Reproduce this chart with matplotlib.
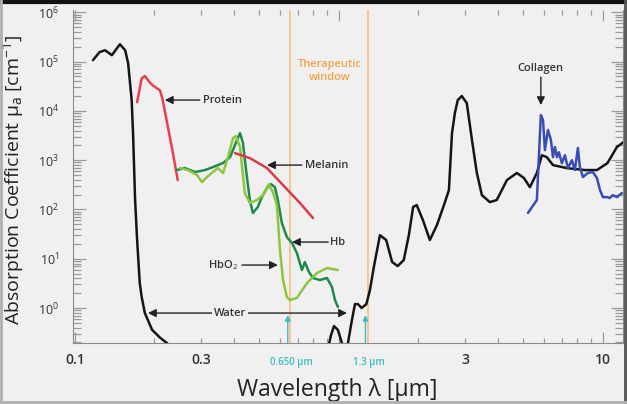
import numpy as np
import matplotlib.pyplot as plt
from matplotlib.ticker import LogLocator, FuncFormatter
from matplotlib.lines import Line2D

plt.rcParams['font.family'] = ['Open Sans', 'DejaVu Sans']
plt.rcParams['mathtext.fontset'] = 'custom'
plt.rcParams['mathtext.rm'] = 'Open Sans'
plt.rcParams['mathtext.it'] = 'Open Sans:italic'
plt.rcParams['mathtext.bf'] = 'Open Sans:bold'

# --- data (wavelength in um, absorption in 1/cm) ---
water_wl = [0.117, 0.124, 0.130, 0.138, 0.148, 0.155, 0.159, 0.164, 0.166, 0.169,
            0.172, 0.176, 0.179, 0.184, 0.196, 0.210, 0.223, 0.240,
            0.900, 0.933, 0.958, 0.991, 1.026, 1.054, 1.081, 1.12, 1.15, 1.18,
            1.22, 1.27, 1.31, 1.36, 1.43, 1.51, 1.59, 1.67, 1.76, 1.84, 1.91,
            1.97, 2.08, 2.21, 2.35, 2.50, 2.61, 2.68, 2.75, 2.82, 2.92, 3.05,
            3.19, 3.33, 3.48, 3.73, 3.96, 4.33, 4.72, 5.02, 5.29, 5.62, 5.87,
            6.13, 6.47, 7.31, 8.55, 9.49, 10.4, 11.3, 12.3]
water_mu = [1.07e5, 1.56e5, 1.7e5, 1.35e5, 2.25e5, 1.7e5, 9.3e4, 1.66e4, 3.5e3, 155,
            24, 3.2, 1.67, 0.79, 0.36, 0.25, 0.195, 0.12,
            0.12, 0.28, 0.43, 0.36, 0.195, 0.14, 0.19, 0.57, 1.2, 1.2,
            1.0, 1.2, 2.3, 7.4, 30, 24, 8.6, 7.1, 9.4, 30, 112,
            123, 61, 24, 48, 123, 247, 3.5e3, 9.1e3, 1.66e4, 2.0e4, 1.44e4,
            2.6e3, 550, 195, 141, 155, 395, 550, 435, 283, 550, 1260,
            1150, 795, 690, 630, 630, 870, 1850, 2.6e3]

protein_wl = [0.172, 0.179, 0.184, 0.192, 0.197, 0.210, 0.215, 0.225, 0.235, 0.245]
protein_mu = [1.5e4, 4.6e4, 5.1e4, 3.8e4, 3.3e4, 2.6e4, 1.66e4, 4.7e3, 1.4e3, 395]

melanin_wl = [0.404, 0.460, 0.534, 0.614, 0.712, 0.797]
melanin_mu = [1390, 1100, 690, 312, 135, 67]

hb_wl = [0.243, 0.261, 0.285, 0.311, 0.333, 0.364, 0.387, 0.411, 0.422, 0.433,
         0.448, 0.460, 0.472, 0.493, 0.511, 0.534, 0.553, 0.572, 0.587, 0.608,
         0.635, 0.664, 0.693, 0.724, 0.743, 0.770, 0.797, 0.847, 0.901, 0.941,
         0.966, 0.991]
hb_mu = [630, 691, 574, 630, 724, 873, 1156, 2557, 3548, 2222,
         454, 155, 84.5, 112, 179, 272, 327, 284, 155, 53,
         27.5, 20.8, 13.1, 5.9, 8.57, 5.37, 4.06, 3.70, 4.06, 2.67,
         1.45, 1.05]

hbo2_wl = [0.250, 0.268, 0.290, 0.303, 0.316, 0.333, 0.348, 0.364, 0.380, 0.397,
           0.407, 0.422, 0.440, 0.460, 0.489, 0.515, 0.543, 0.562, 0.582, 0.598,
           0.614, 0.635, 0.652, 0.693, 0.757, 0.825, 0.901, 0.991]
hbo2_mu = [691, 630, 499, 360, 454, 574, 691, 547, 1156, 2806,
           3083, 1845, 215, 135, 155, 196, 327, 225, 123, 15.0,
           3.70, 1.67, 1.45, 1.60, 3.21, 5.13, 6.47, 5.90]

collagen_wl = [5.20, 5.62, 5.72, 5.82, 5.93, 6.03, 6.19, 6.35, 6.47, 6.58, 6.70,
               6.81, 6.99, 7.18, 7.37, 7.63, 7.83, 8.04, 8.18, 8.40, 8.77, 9.16,
               9.49, 9.75, 10.0, 10.4, 10.6, 10.9, 11.3, 11.8]
collagen_mu = [85, 155, 1150, 8200, 6500, 1600, 4100, 2600, 1150, 1850, 1150,
               1450, 870, 1260, 690, 1000, 630, 1770, 720, 455, 550, 575,
               435, 247, 178, 178, 170, 195, 178, 215]

window = [0.655, 1.29]
marker_wl = [0.64, 1.26]
marker_txt = ['0.650 µm', '1.3 µm']

bg = '#f0f0f0'
txt_col = '#333333'
fig = plt.figure(figsize=(6.27, 4.04), dpi=100, facecolor=bg)
ax = fig.add_axes([0.1164, 0.151, 0.877, 0.824])
ax.set_facecolor(bg)
ax.set_xscale('log')
ax.set_yscale('log')
ax.set_xlim(0.0983, 11.9)
ax.set_ylim(0.195, 1.11e6)

for w in window:
    ax.axvline(w, color='#f7c690', lw=1.4, zorder=1)

kw = dict(lw=1.8, solid_joinstyle='round', solid_capstyle='round', zorder=3)
ax.plot(water_wl, water_mu, color='#151515', **kw)
ax.plot(protein_wl, protein_mu, color='#e9404e', **kw)
ax.plot(hb_wl, hb_mu, color='#1f8a4c', **kw)
ax.plot(hbo2_wl, hbo2_mu, color='#8cc63f', **kw)
ax.plot(melanin_wl, melanin_mu, color='#dc3a4c', **kw)
ax.plot(collagen_wl, collagen_mu, color='#3a4db5', **kw)

# ticks
ax.xaxis.set_major_locator(LogLocator(base=10, numticks=10))
ax.xaxis.set_minor_locator(LogLocator(base=10, subs=np.arange(2, 10), numticks=10))
ax.yaxis.set_major_locator(LogLocator(base=10, numticks=10))
ax.yaxis.set_minor_locator(LogLocator(base=10, subs=np.arange(2, 10), numticks=10))


def xmaj(v, pos):
    if np.isclose(v, 0.1):
        return '0.1'
    if np.isclose(v, 10):
        return '10'
    return ''


def xmin(v, pos):
    if np.isclose(v, 0.3):
        return '0.3'
    if np.isclose(v, 3):
        return '3'
    return ''


ax.xaxis.set_major_formatter(FuncFormatter(xmaj))
ax.xaxis.set_minor_formatter(FuncFormatter(xmin))
ax.yaxis.set_major_formatter(FuncFormatter(lambda v, p: r'$10^{%d}$' % round(np.log10(v))))
ax.yaxis.set_minor_formatter(FuncFormatter(lambda v, p: ''))

ax.tick_params(which='both', direction='in', top=True, right=True, color='#9a9a9a',
               labelcolor=txt_col, labelsize=10, width=0.9)
ax.tick_params(axis='x', which='major', length=8, pad=7)
ax.tick_params(axis='x', which='minor', length=3.5, pad=7)
ax.tick_params(axis='y', which='major', length=9, pad=10, labelsize=9)
ax.tick_params(axis='y', which='minor', length=5.5)
for lab in ax.get_xticklabels(which='both') + ax.get_yticklabels():
    lab.set_fontweight('semibold')

for s in ['left', 'bottom', 'right']:
    ax.spines[s].set_color('#8a8a8a')
ax.spines['top'].set_visible(False)

ax.set_xlabel('Wavelength λ [µm]', fontsize=16.5, color='#222222')
ax.xaxis.set_label_coords(0.48, -0.106)
ax.set_ylabel('Absorption Coefficient μ$_\\mathrm{a}$ [cm$^{-1}$]', fontsize=14, color='#222222')
ax.yaxis.set_label_coords(-0.085, 0.49)

# annotations
akw = dict(arrowstyle='-|>', color='#222222', lw=1.0, mutation_scale=12, shrinkA=0, shrinkB=0)
tkw = dict(fontsize=8, color=txt_col, fontweight='semibold', va='center')
ax.annotate('', xy=(0.219, 1.66e4), xytext=(0.297, 1.66e4), arrowprops=akw)
ax.text(0.305, 1.66e4, 'Protein', ha='left', **tkw)
ax.annotate('', xy=(0.534, 795), xytext=(0.724, 795), arrowprops=akw)
ax.text(0.743, 795, 'Melanin', ha='left', **tkw)
ax.annotate('', xy=(0.664, 21.8), xytext=(0.91, 21.8), arrowprops=akw)
ax.text(0.924, 21.8, 'Hb', ha='left', **tkw)
ax.annotate('', xy=(0.587, 7.45), xytext=(0.429, 7.45), arrowprops=akw)
ax.text(0.414, 7.45, 'HbO$_2$', ha='right', **tkw)
ax.annotate('', xy=(0.189, 0.79), xytext=(1.073, 0.79),
            arrowprops=dict(akw, arrowstyle='<|-|>'))
ax.text(0.387, 0.79, 'Water', ha='center', bbox=dict(fc=bg, ec='none', pad=1.5), **tkw)
ax.annotate('', xy=(5.82, 1.31e4), xytext=(5.82, 4.85e4), arrowprops=akw)
ax.text(5.82, 7.4e4, 'Collagen', ha='center', **tkw)
ax.text(0.924, 6.4e4, 'Therapeutic\nwindow', ha='center', va='center', fontsize=8,
        color='#f5a24a', fontweight='semibold', linespacing=1.3)

for w, t in zip(marker_wl, marker_txt):
    ax.annotate('', xy=(w, 0.72), xytext=(w, 0.195),
                arrowprops=dict(arrowstyle='-|>', color='#3bbcc4', lw=1.0,
                                mutation_scale=8, shrinkA=0, shrinkB=0))
    ax.text(w * 1.03, -0.06, t, transform=ax.get_xaxis_transform(), ha='center',
            va='center', fontsize=7, color='#3bbcc4', fontweight='semibold')

# picture frame
fig.add_artist(Line2D([0, 1], [0.996, 0.996], transform=fig.transFigure, color='#111111', lw=3))
fig.add_artist(Line2D([0.002, 0.002], [0, 1], transform=fig.transFigure, color='#b0b0b0', lw=2))
fig.add_artist(Line2D([0.997, 0.997], [0, 1], transform=fig.transFigure, color='#555555', lw=2))
fig.add_artist(Line2D([0, 1], [0.004, 0.004], transform=fig.transFigure, color='#b0b0b0', lw=2))

fig.savefig('out.png', dpi=100, facecolor=bg)
